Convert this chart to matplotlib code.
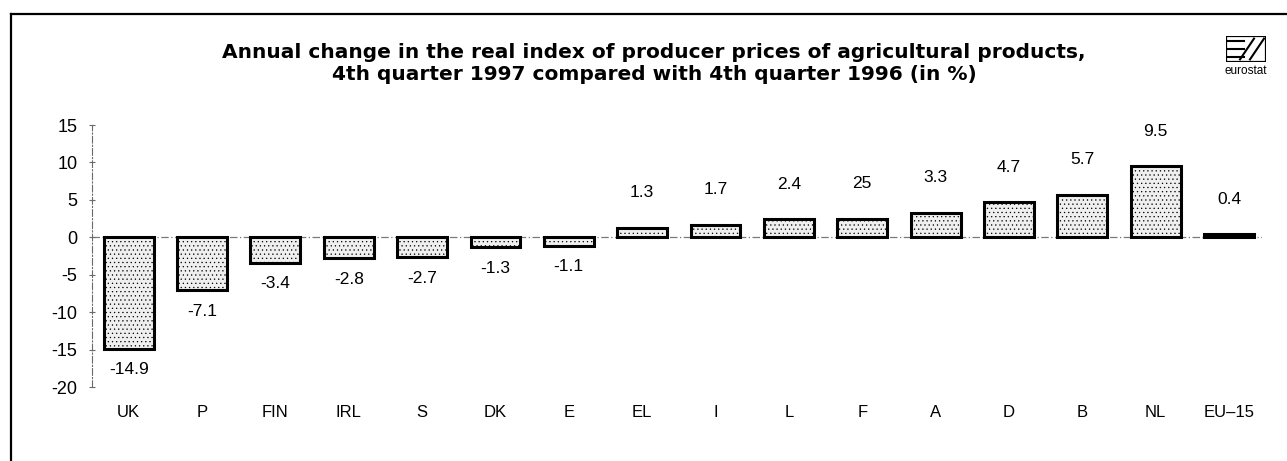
"""
plot.py — Annual change in the real index of producer prices of
agricultural products (Q4 1997 vs Q4 1996), eurostat style bar chart.
"""

import matplotlib
matplotlib.use("Agg")
import matplotlib.pyplot as plt
from matplotlib.lines import Line2D
from matplotlib.patches import Rectangle

# -----------------------------------------------------------------------
# data
countries = ["UK", "P", "FIN", "IRL", "S", "DK", "E", "EL",
             "I", "L", "F", "A", "D", "B", "NL", "EU–15"]
changes = [-14.9, -7.1, -3.4, -2.8, -2.7, -1.3, -1.1, 1.3,
           1.7, 2.4, 2.5, 3.3, 4.7, 5.7, 9.5, 0.4]
# printed labels (the source prints "25" for F)
value_labels = ["-14.9", "-7.1", "-3.4", "-2.8", "-2.7", "-1.3", "-1.1", "1.3",
                "1.7", "2.4", "25", "3.3", "4.7", "5.7", "9.5", "0.4"]
yticks = [15, 10, 5, 0, -5, -10, -15, -20]

TITLE = ("Annual change in the real index of producer prices of agricultural products,\n"
         "4th quarter 1997 compared with 4th quarter 1996 (in %)")

plt.rcParams["font.family"] = ["Liberation Sans", "DejaVu Sans"]
plt.rcParams["hatch.color"] = "#a0a0a0"
plt.rcParams["hatch.linewidth"] = 0.4

W, H = 1287, 461
fig = plt.figure(figsize=(W / 100, H / 100), dpi=100)
ax = fig.add_axes([92 / W, 1 - 387 / H, 1170 / W, 262 / H])

x = list(range(len(countries)))
ax.bar(x, changes, width=0.68, color="#efefef", edgecolor="black",
       linewidth=2.2, hatch="....", zorder=3)

# value labels: above positive bars, below negative ones
for xi, v, lab in zip(x, changes, value_labels):
    off = 35 if v >= 0 else -21
    ax.annotate(lab, (xi, v), xytext=(0, off), textcoords="offset pixels",
                ha="center", va="center", fontsize=12.5)

# zero line, dash-dot grey
ax.axhline(0, color="#7a7a7a", linewidth=0.9, linestyle=(0, (6, 2, 1, 2)), zorder=1)

ax.set_xlim(-0.5, 15.45)
ax.set_ylim(-20, 15)
ax.set_yticks(yticks)
ax.set_yticklabels([str(t) for t in yticks], fontsize=13)
ax.set_xticks(x)
ax.set_xticklabels(countries, fontsize=12)

for side in ("top", "right", "bottom"):
    ax.spines[side].set_visible(False)
ax.spines["left"].set_color("#6a6a6a")
ax.spines["left"].set_linewidth(0.8)
ax.spines["left"].set_linestyle((0, (6, 2, 1, 2)))
ax.tick_params(axis="y", direction="inout", length=5, width=0.8,
               color="#6a6a6a", pad=8)
ax.tick_params(axis="x", length=0, pad=13)

# title (the original is set wide, DejaVu gets close to its width)
fig.text(654 / W, 1 - 63 / H, TITLE, ha="center", va="center",
         fontsize=14.5, fontweight="bold", family="DejaVu Sans", linespacing=1.2)

# scanned-page frame: only the top and left edges are visible
fig.add_artist(Line2D([11 / W, 11 / W], [0, 1 - 14 / H],
                      transform=fig.transFigure, color="black", linewidth=1.6))
fig.add_artist(Line2D([11 / W, 1], [1 - 14 / H, 1 - 14 / H],
                      transform=fig.transFigure, color="black", linewidth=1.6))

# eurostat logo
lx0, lx1, ly0, ly1 = 1226, 1266, 36, 62
logo = fig.add_axes([lx0 / W, 1 - ly1 / H, (lx1 - lx0) / W, (ly1 - ly0) / H])
logo.set_xlim(0, 1)
logo.set_ylim(0, 1)
logo.axis("off")
logo.add_patch(Rectangle((0, 0), 1, 1, fill=False, edgecolor="black", linewidth=1.6))
for yy in (0.2, 0.5, 0.8):
    logo.plot([0.05, 0.45], [yy, yy], color="black", linewidth=1.5)
logo.plot([0.35, 0.7], [0.1, 0.9], color="black", linewidth=1.5)
logo.plot([0.6, 0.95], [0.1, 0.9], color="black", linewidth=1.5)
fig.text((lx0 + lx1) / 2 / W, 1 - 71 / H, "eurostat", ha="center", va="center",
         fontsize=8.5)

fig.savefig("out.png", dpi=100)
